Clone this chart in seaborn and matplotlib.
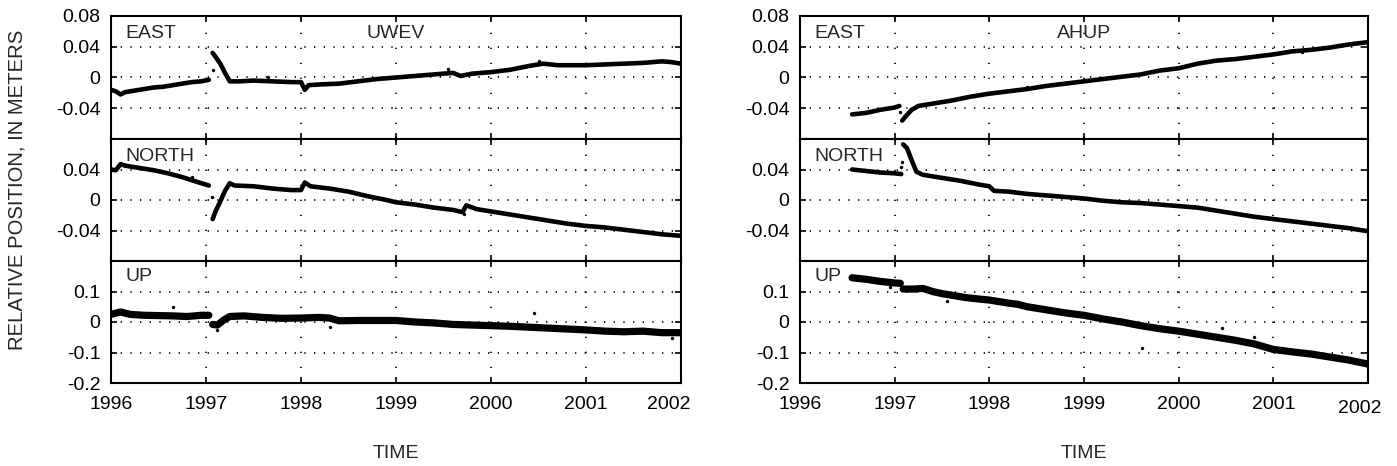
import numpy as np
import pandas as pd
import matplotlib
matplotlib.use("Agg")
import matplotlib.pyplot as plt
import matplotlib.transforms as mtransforms
import seaborn as sns

# ---------------------------------------------------------------------------
# GPS station daily positions (decimal year, metres), two segments per series
# split at the early-1997 offset.
# ---------------------------------------------------------------------------
uwev_east_t1 = [1996.00, 1996.05, 1996.10, 1996.15, 1996.25, 1996.35, 1996.45, 1996.55,
                1996.65, 1996.75, 1996.85, 1996.95, 1997.03]
uwev_east_v1 = [-0.016, -0.018, -0.022, -0.019, -0.017, -0.015, -0.013, -0.012,
                -0.010, -0.008, -0.006, -0.005, -0.003]
uwev_east_t2 = [1997.07, 1997.10, 1997.15, 1997.20, 1997.25, 1997.35, 1997.50, 1997.70,
                1997.90, 1998.00, 1998.04, 1998.08, 1998.20, 1998.40, 1998.60, 1998.80,
                1999.00, 1999.20, 1999.40, 1999.60, 1999.68, 1999.80, 2000.00, 2000.20,
                2000.40, 2000.55, 2000.70, 2000.85, 2001.00, 2001.20, 2001.40, 2001.60,
                2001.80, 2001.90, 2002.00]
uwev_east_v2 = [0.032, 0.027, 0.018, 0.006, -0.005, -0.005, -0.004, -0.005,
                -0.006, -0.006, -0.016, -0.010, -0.009, -0.008, -0.005, -0.002,
                0.000, 0.002, 0.004, 0.006, 0.002, 0.005, 0.007, 0.010,
                0.015, 0.018, 0.016, 0.016, 0.016, 0.017, 0.018, 0.019,
                0.021, 0.020, 0.018]

uwev_north_t1 = [1996.00, 1996.05, 1996.10, 1996.15, 1996.30, 1996.45, 1996.60, 1996.75,
                 1996.90, 1997.03]
uwev_north_v1 = [0.040, 0.039, 0.047, 0.045, 0.042, 0.039, 0.035, 0.030, 0.024, 0.019]
uwev_north_t2 = [1997.07, 1997.10, 1997.15, 1997.20, 1997.25, 1997.30, 1997.50, 1997.70,
                 1997.90, 1998.00, 1998.04, 1998.10, 1998.30, 1998.50, 1998.70, 1998.90,
                 1999.00, 1999.20, 1999.40, 1999.60, 1999.70, 1999.74, 1999.85, 2000.00,
                 2000.20, 2000.40, 2000.60, 2000.80, 2001.00, 2001.20, 2001.40, 2001.60,
                 2001.80, 2002.00]
uwev_north_v2 = [-0.025, -0.015, -0.002, 0.012, 0.022, 0.019, 0.018, 0.015,
                 0.013, 0.013, 0.023, 0.018, 0.015, 0.011, 0.005, 0.000,
                 -0.003, -0.006, -0.010, -0.013, -0.016, -0.007, -0.012, -0.015,
                 -0.019, -0.023, -0.027, -0.031, -0.034, -0.036, -0.039, -0.042,
                 -0.045, -0.047]

uwev_up_t1 = [1996.00, 1996.10, 1996.20, 1996.35, 1996.50, 1996.65, 1996.80, 1996.95, 1997.03]
uwev_up_v1 = [0.025, 0.033, 0.025, 0.022, 0.021, 0.020, 0.018, 0.022, 0.022]
uwev_up_t2 = [1997.07, 1997.12, 1997.18, 1997.25, 1997.40, 1997.60, 1997.80, 1998.00,
              1998.20, 1998.30, 1998.40, 1998.60, 1998.80, 1999.00, 1999.20, 1999.40,
              1999.60, 1999.80, 2000.00, 2000.20, 2000.40, 2000.60, 2000.80, 2001.00,
              2001.20, 2001.40, 2001.60, 2001.80, 2002.00]
uwev_up_v2 = [-0.008, -0.010, 0.005, 0.018, 0.020, 0.015, 0.012, 0.013,
              0.015, 0.013, 0.004, 0.005, 0.005, 0.005, 0.000, -0.003,
              -0.008, -0.010, -0.012, -0.014, -0.017, -0.020, -0.023, -0.026,
              -0.030, -0.032, -0.030, -0.035, -0.035]

ahup_east_t1 = [1996.55, 1996.70, 1996.85, 1997.00, 1997.05]
ahup_east_v1 = [-0.048, -0.046, -0.042, -0.039, -0.037]
ahup_east_t2 = [1997.08, 1997.12, 1997.18, 1997.25, 1997.40, 1997.60, 1997.80, 1998.00,
                1998.20, 1998.40, 1998.60, 1998.80, 1999.00, 1999.20, 1999.40, 1999.60,
                1999.80, 2000.00, 2000.20, 2000.40, 2000.60, 2000.80, 2001.00, 2001.20,
                2001.40, 2001.60, 2001.80, 2002.00]
ahup_east_v2 = [-0.056, -0.050, -0.042, -0.037, -0.034, -0.030, -0.025, -0.021,
                -0.018, -0.015, -0.011, -0.008, -0.005, -0.002, 0.001, 0.004,
                0.009, 0.012, 0.018, 0.022, 0.024, 0.027, 0.030, 0.034,
                0.036, 0.039, 0.043, 0.046]

ahup_north_t1 = [1996.55, 1996.70, 1996.85, 1997.00, 1997.07]
ahup_north_v1 = [0.040, 0.038, 0.036, 0.035, 0.034]
ahup_north_t2 = [1997.09, 1997.13, 1997.18, 1997.23, 1997.30, 1997.50, 1997.70, 1997.90,
                 1998.00, 1998.05, 1998.20, 1998.40, 1998.60, 1998.80, 1999.00, 1999.20,
                 1999.40, 1999.60, 1999.80, 2000.00, 2000.20, 2000.40, 2000.60, 2000.80,
                 2001.00, 2001.20, 2001.40, 2001.60, 2001.80, 2002.00]
ahup_north_v2 = [0.073, 0.068, 0.052, 0.037, 0.033, 0.029, 0.025, 0.020,
                 0.018, 0.012, 0.011, 0.008, 0.006, 0.004, 0.002, -0.001,
                 -0.003, -0.004, -0.006, -0.008, -0.010, -0.014, -0.018, -0.022,
                 -0.025, -0.028, -0.031, -0.034, -0.037, -0.041]

ahup_up_t1 = [1996.55, 1996.70, 1996.85, 1997.00, 1997.06]
ahup_up_v1 = [0.145, 0.140, 0.133, 0.128, 0.127]
ahup_up_t2 = [1997.09, 1997.20, 1997.30, 1997.40, 1997.50, 1997.60, 1997.75, 1997.90,
              1998.00, 1998.20, 1998.30, 1998.40, 1998.60, 1998.80, 1999.00, 1999.20,
              1999.40, 1999.60, 1999.80, 2000.00, 2000.20, 2000.40, 2000.60, 2000.80,
              2001.00, 2001.20, 2001.40, 2001.60, 2001.80, 2002.00]
ahup_up_v2 = [0.108, 0.108, 0.110, 0.100, 0.093, 0.088, 0.080, 0.075,
              0.072, 0.062, 0.058, 0.050, 0.040, 0.030, 0.022, 0.010,
              0.000, -0.012, -0.022, -0.030, -0.040, -0.050, -0.060, -0.072,
              -0.090, -0.098, -0.105, -0.115, -0.125, -0.138]

# isolated daily solutions lying off the main trend
uwev_east_out_t = [1997.07, 1997.65, 1999.55, 2000.50]
uwev_east_out_v = [0.010, 0.001, 0.011, 0.022]
uwev_north_out_t = [1997.06, 1996.85, 1999.72]
uwev_north_out_v = [0.004, 0.030, -0.019]
uwev_up_out_t = [1996.65, 1997.12, 1998.30, 2000.45, 2001.90]
uwev_up_out_v = [0.048, -0.025, -0.018, 0.028, -0.052]
ahup_east_out_t = [1997.06, 1998.40, 2001.30]
ahup_east_out_v = [-0.045, -0.012, 0.033]
ahup_north_out_t = [1997.07, 1997.08]
ahup_north_out_v = [0.043, 0.050]
ahup_up_out_t = [1996.95, 1997.55, 1999.61, 2000.46, 2000.80]
ahup_up_out_v = [0.115, 0.070, -0.085, -0.020, -0.048]

stations = ["UWEV", "AHUP"]
components = ["EAST", "NORTH", "UP"]
year_ticks = [1996, 1997, 1998, 1999, 2000, 2001, 2002]
year_labels = ["1996", "1997", "1998", "1999", "2000", "2001", "2002"]
en_ticks_top = [0.08, 0.04, 0.0, -0.04]
en_labels_top = ["0.08", "0.04", "0", "-0.04"]
en_ticks = [0.04, 0.0, -0.04]
en_labels = ["0.04", "0", "-0.04"]
up_ticks = [0.1, 0.0, -0.1, -0.2]
up_labels = ["0.1", "0", "-0.1", "-0.2"]

series = {
    ("UWEV", "EAST"): [(uwev_east_t1, uwev_east_v1), (uwev_east_t2, uwev_east_v2)],
    ("UWEV", "NORTH"): [(uwev_north_t1, uwev_north_v1), (uwev_north_t2, uwev_north_v2)],
    ("UWEV", "UP"): [(uwev_up_t1, uwev_up_v1), (uwev_up_t2, uwev_up_v2)],
    ("AHUP", "EAST"): [(ahup_east_t1, ahup_east_v1), (ahup_east_t2, ahup_east_v2)],
    ("AHUP", "NORTH"): [(ahup_north_t1, ahup_north_v1), (ahup_north_t2, ahup_north_v2)],
    ("AHUP", "UP"): [(ahup_up_t1, ahup_up_v1), (ahup_up_t2, ahup_up_v2)],
}
outliers = {
    ("UWEV", "EAST"): (uwev_east_out_t, uwev_east_out_v),
    ("UWEV", "NORTH"): (uwev_north_out_t, uwev_north_out_v),
    ("UWEV", "UP"): (uwev_up_out_t, uwev_up_out_v),
    ("AHUP", "EAST"): (ahup_east_out_t, ahup_east_out_v),
    ("AHUP", "NORTH"): (ahup_north_out_t, ahup_north_out_v),
    ("AHUP", "UP"): (ahup_up_out_t, ahup_up_out_v),
}

rows = []
for (st, comp), segs in series.items():
    for k, (ts, vs) in enumerate(segs):
        for t, v in zip(ts, vs):
            rows.append(dict(station=st, comp=comp, seg=k, t=t, v=v))
df = pd.DataFrame(rows)

sns.set_style("ticks")
plt.rcParams["font.family"] = ["Liberation Sans", "DejaVu Sans"]
plt.rcParams["axes.unicode_minus"] = False
FS = 14

fig = plt.figure(figsize=(13.97, 4.66), dpi=100)

W, H = 1397.0, 466.0
col_left = [111, 800]
col_width = [570, 568]
row_edges = [16, 139, 261, 383]

for ci, st in enumerate(stations):
    for ri, comp in enumerate(components):
        top, bot = row_edges[ri], row_edges[ri + 1]
        ax = fig.add_axes([col_left[ci] / W, 1 - bot / H, col_width[ci] / W, (bot - top) / H])
        sub = df[(df.station == st) & (df.comp == comp)]
        lw = 5.2 if comp == "UP" else 3.3
        sns.lineplot(data=sub, x="t", y="v", units="seg", estimator=None, sort=True,
                     color="black", linewidth=lw, ax=ax, legend=False)
        ot, ov = outliers[(st, comp)]
        sns.scatterplot(x=ot, y=ov, color="black", s=6, linewidth=0, ax=ax, legend=False)

        ax.set_xlim(1996, 2002)
        if comp == "UP":
            ax.set_ylim(-0.2, 0.2)
            ax.set_yticks(up_ticks)
            ax.set_yticklabels(up_labels)
        elif comp == "EAST":
            ax.set_ylim(-0.08, 0.08)
            ax.set_yticks(en_ticks_top)
            ax.set_yticklabels(en_labels_top)
        else:
            ax.set_ylim(-0.08, 0.08)
            ax.set_yticks(en_ticks)
            ax.set_yticklabels(en_labels)
        ax.set_xticks(year_ticks)
        if comp == "UP":
            ax.set_xticklabels(year_labels)
        else:
            ax.set_xticklabels([])
        ax.set_xlabel("")
        ax.set_ylabel("")

        ax.tick_params(direction="in", length=4, width=1.2, top=True, right=True,
                       labelsize=FS, colors="black")
        ax.tick_params(axis="y", pad=7.5)
        ax.tick_params(axis="x", pad=9.5)
        for sp in ax.spines.values():
            sp.set_visible(True)
            sp.set_linewidth(1.5)
            sp.set_color("black")

        ax.xaxis.grid(True, color="black", linestyle=(0, (0.8, 8.2)), linewidth=1.2)
        ax.yaxis.grid(True, color="black", linestyle=(0, (0.8, 5.0)), linewidth=1.2)
        ax.set_axisbelow(True)

        ax.text(0.026, 0.86 if comp != "UP" else 0.87, comp, transform=ax.transAxes,
                fontsize=FS, ha="left", va="center")
        if comp == "EAST":
            ax.text(0.5, 0.86, st, transform=ax.transAxes, fontsize=FS,
                    ha="center", va="center")

        if comp == "UP":
            # last year label nudged inward so it stays inside the frame
            lab = ax.get_xticklabels()[-1]
            dx, dy = (-12, 0) if ci == 0 else (-8, -4)
            lab.set_transform(lab.get_transform() +
                              mtransforms.ScaledTranslation(dx / 100, dy / 100, fig.dpi_scale_trans))
            ax.text(0.5, -0.58, "TIME", transform=ax.transAxes, fontsize=FS,
                    ha="center", va="center")

fig.text(17 / W, 1 - 190 / H, "RELATIVE POSITION, IN METERS", rotation=90,
         fontsize=14.6, ha="center", va="center")

fig.savefig("out.png", dpi=100, facecolor="white")
